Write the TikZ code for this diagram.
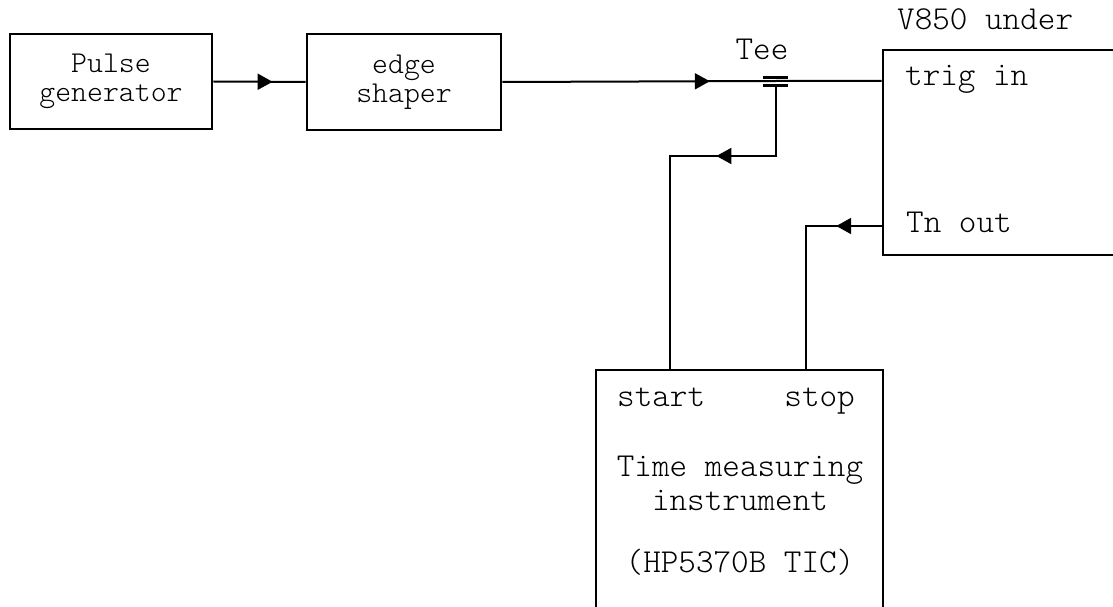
\documentclass[tikz,border=0pt]{standalone}
\usepackage{fontspec}
\setmonofont{Latin Modern Mono Light}
\usetikzlibrary{arrows.meta,calc,decorations.markings}
\newcommand\unitfont{\fontsize{30.3}{29}\selectfont\ttfamily}
\newcommand\tagfont{\fontsize{33.5}{34}\selectfont\ttfamily}
\tikzset{
  unit/.style={draw,line width=2.8pt,inner sep=0pt,align=center,font=\unitfont},
  frame/.style={draw,line width=2.8pt,inner sep=0pt},
  tag/.style={inner sep=0pt,font=\tagfont},
  wire/.style={line width=2pt},
  teebar/.style={line width=2.4pt},
  midarrow/.style={postaction={decorate},decoration={markings,
      mark=at position #1 with {\arrow{Triangle[length=15pt,width=16pt]}}}},
}

\begin{document}
\begin{tikzpicture}[x=1pt,y=-1pt]
  \useasboundingbox (0,0) rectangle (1113,607);
  \clip (0,0) rectangle (1113,607);
  % source chain
  \node[unit,minimum width=202pt,minimum height=95pt] (pulse) at (111,81.5) {Pulse\\generator};
  \node[unit,minimum width=194pt,minimum height=96pt] (shaper) at (404,82) {edge\\shaper};
  % unit under test, runs off the right edge
  \node[frame,minimum width=297pt,minimum height=205pt] (dut) at (1031.5,152.5) {};
  \node[tag,anchor=base west] (dutname) at (897,30) {V850 under};
  \node[tag,anchor=base west] (trig) at (905,86) {trig in};
  \node[tag,anchor=base west] (tnout) at (906,232) {Tn out};
  % counter, runs off the bottom edge
  \node[frame,minimum width=287pt,minimum height=270pt] (tic) at (739.5,505) {};
  \node[tag,anchor=base west] (start) at (617,406) {start};
  \node[tag,anchor=base east] (stop) at (855,406) {stop};
  \node[tag,align=center] (ticname) at (740,483) {Time measuring\\instrument};
  \node[tag,anchor=base] (ticmodel) at (740,572) {(HP5370B TIC)};
  % tee on the trigger line
  \coordinate (tee) at (776,81);
  \node[tag,anchor=base] (teename) at (762,60) {Tee};
  \draw[teebar] ($(tee)+(-13,-3.5)$) -- ($(tee)+(12,-3.5)$);
  \draw[teebar] ($(tee)+(-13,4.7)$) -- ($(tee)+(12,4.7)$);
  \coordinate (startturn) at (670,156);
  \coordinate (stopturn) at (806,226);
  % wiring
  \draw[wire,midarrow=0.642] (pulse.east) -- (shaper.west);
  \draw[wire,midarrow=0.547] (shaper.east) -- (tee) -- (dut.west |- tee);
  \draw[wire,midarrow=0.334] ($(tee)+(0,4.7)$) |- (startturn) -- (startturn |- tic.north);
  \draw[wire,midarrow=0.208] (dut.west |- stopturn) -- (stopturn) -- (stopturn |- tic.north);
\end{tikzpicture}
\end{document}
